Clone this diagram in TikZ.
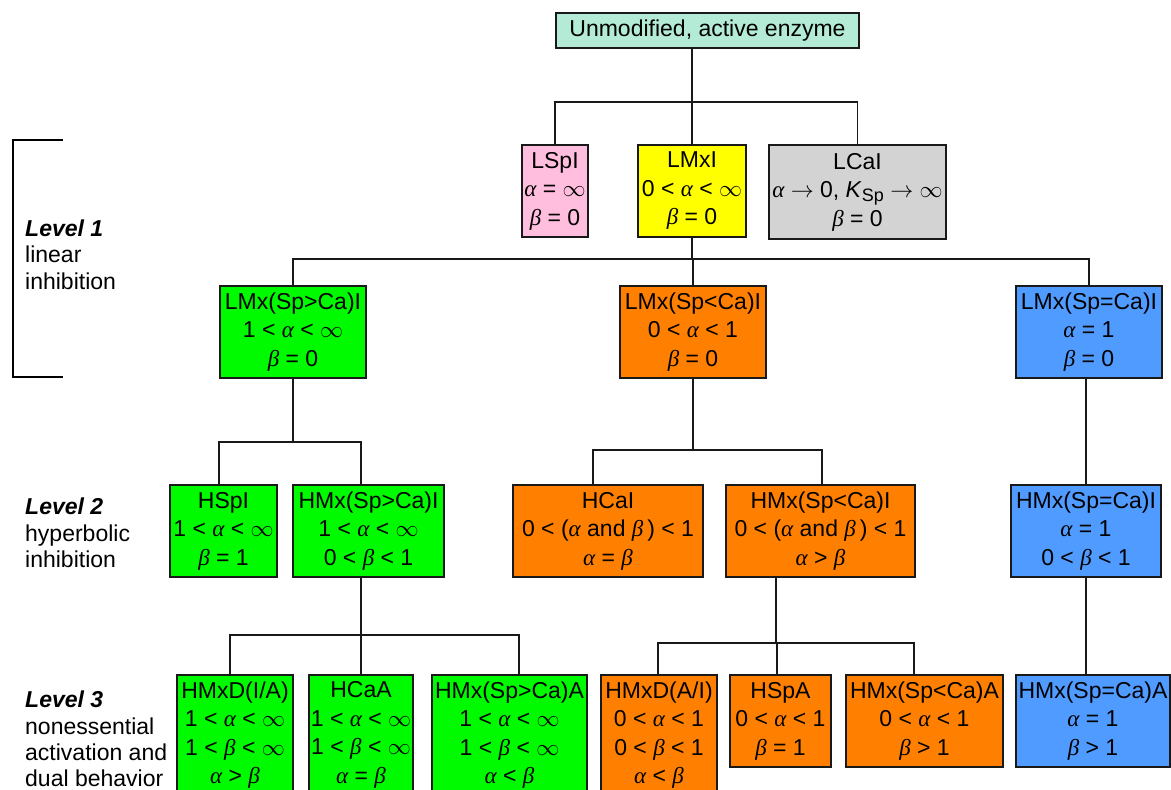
\RequirePackage{fix-cm}
\documentclass[tikz,border=0pt]{standalone}
\usepackage{fontspec}
\setmainfont{Liberation Sans}
\newfontfamily\grkfont{Liberation Serif}
\newcommand\myal{{\grkfont\itshape α}}
\newcommand\mybe{{\grkfont\itshape β}}
\definecolor{mint}{RGB}{180,235,215}
\definecolor{pinkbox}{RGB}{255,190,222}
\definecolor{yellowbox}{RGB}{255,255,0}
\definecolor{graybox}{RGB}{211,211,211}
\definecolor{greenbox}{RGB}{0,250,0}
\definecolor{orangebox}{RGB}{255,128,0}
\definecolor{bluebox}{RGB}{80,155,255}
\begin{document}
\begin{tikzpicture}[x=1pt,y=-1pt,
  box/.style={draw=black!90, line width=1.5pt, inner sep=0pt, align=center,
    font=\fontsize{23}{28.5}\selectfont},
  conn/.style={line width=1.7pt, draw=black!90},
  lbl/.style={anchor=west, align=left, inner sep=0pt, font=\fontsize{23}{26.3}\selectfont},
  short/.style={minimum height=92pt},
  tall/.style={minimum height=120pt}]
\path[use as bounding box] (0,0) rectangle (1171,790);
\clip (0,0) rectangle (1171,790);

% top
\node[box, fill=mint, minimum width=303pt, minimum height=35pt] (top) at (707.5,30.5) {Unmodified, active enzyme};

% level 1 (first row)
\node[box, fill=pinkbox, minimum width=66pt, short] (lspi) at (555,191) {LSpI\\\myal{} = $\infty$\\\mybe{} = 0};
\node[box, fill=yellowbox, line width=2.8pt, minimum width=108pt, short] (lmxi) at (692,191) {LMxI\\0 < \myal{} < $\infty$\\\mybe{} = 0};
\node[box, fill=graybox, minimum width=177pt, minimum height=94pt] (lcai) at (857.5,192) {LCaI\\\myal{} $\rightarrow$ 0, \textit{K}\raisebox{-0.35ex}{\fontsize{18}{18}\selectfont Sp} $\rightarrow\infty$\\\mybe{} = 0};

% level 1 (second row)
\node[box, fill=greenbox, minimum width=146pt, short] (lgt) at (293,332) {LMx(Sp>Ca)I\\1 < \myal{} < $\infty$\\\mybe{} = 0};
\node[box, fill=orangebox, minimum width=146pt, short] (llt) at (693,332) {LMx(Sp<Ca)I\\0 < \myal{} < 1\\\mybe{} = 0};
\node[box, fill=bluebox, minimum width=146pt, short] (leq) at (1089,332) {LMx(Sp=Ca)I\\\myal{} = 1\\\mybe{} = 0};

% level 2
\node[box, fill=greenbox, minimum width=107pt, short] (hspi) at (223.5,531) {HSpI\\1 < \myal{} < $\infty$\\\mybe{} = 1};
\node[box, fill=greenbox, minimum width=151pt, short] (hgti) at (368.5,531) {HMx(Sp>Ca)I\\1 < \myal{} < $\infty$\\0 < \mybe{} < 1};
\node[box, fill=orangebox, minimum width=190pt, short] (hcai) at (608,531) {HCaI\\0 < (\myal{} and \mybe{}\,) < 1\\\myal{} = \mybe};
\node[box, fill=orangebox, minimum width=189pt, short] (hlti) at (820.5,531) {HMx(Sp<Ca)I\\0 < (\myal{} and \mybe{}\,) < 1\\\myal{} > \mybe};
\node[box, fill=bluebox, minimum width=150pt, short] (heqi) at (1086,531) {HMx(Sp=Ca)I\\\myal{} = 1\\0 < \mybe{} < 1};

% level 3
\node[box, fill=greenbox, minimum width=116pt, tall] (hmxdia) at (235,735) {HMxD(I/A)\\1 < \myal{} < $\infty$\\1 < \mybe{} < $\infty$\\\myal{} > \mybe};
\node[box, fill=greenbox, minimum width=104pt, tall] (hcaa) at (361,735) {HCaA\\1 < \myal{} < $\infty$\\1 < \mybe{} < $\infty$\\\myal{} = \mybe};
\node[box, fill=greenbox, minimum width=155pt, tall] (hgta) at (509.5,735) {HMx(Sp>Ca)A\\1 < \myal{} < $\infty$\\1 < \mybe{} < $\infty$\\\myal{} < \mybe};
\node[box, fill=orangebox, minimum width=116pt, tall] (hmxdai) at (659,735) {HMxD(A/I)\\0 < \myal{} < 1\\0 < \mybe{} < 1\\\myal{} < \mybe};
\node[box, fill=orangebox, minimum width=101pt, short] (hspa) at (780.5,721) {HSpA\\0 < \myal{} < 1\\\mybe{} = 1};
\node[box, fill=orangebox, minimum width=157pt, short] (hlta) at (924.5,721) {HMx(Sp<Ca)A\\0 < \myal{} < 1\\\mybe{} > 1};
\node[box, fill=bluebox, minimum width=154pt, short] (heqa) at (1093,721) {HMx(Sp=Ca)A\\\myal{} = 1\\\mybe{} > 1};

% bus levels
\coordinate (bus1) at (0,102);
\coordinate (bus2) at (0,259);
\coordinate (bus3) at (0,442);
\coordinate (bus4) at (0,450);
\coordinate (bus5) at (0,635);
\coordinate (bus6) at (0,643);

% connectors: top -> first row
\draw[conn] (lmxi.north) -- (lmxi.north |- top.south);
\draw[conn] (lspi.north) |- (lcai.north |- bus1) -- (lcai.north);

% LMxI -> second row
\draw[conn] (lmxi.south) -- (lmxi.south |- bus2);
\draw[conn] (lgt.north) |- (leq.north |- bus2) -- (leq.north);
\draw[conn] (llt.north) -- (llt.north |- bus2);

% green level 2
\coordinate (hspiT) at ([xshift=-4.5pt]hspi.north);
\coordinate (hgtiT) at ([xshift=-7.5pt]hgti.north);
\draw[conn] (lgt.south) -- (lgt.south |- bus3);
\draw[conn] (hspiT) |- (hgtiT |- bus3) -- (hgtiT);

% orange level 2
\coordinate (hcaiT) at ([xshift=-15pt]hcai.north);
\coordinate (hltiT) at ([xshift=1.5pt]hlti.north);
\draw[conn] (llt.south) -- (llt.south |- bus4);
\draw[conn] (hcaiT) |- (hltiT |- bus4) -- (hltiT);

% blue level 2
\draw[conn] (heqi.north) -- (heqi.north |- leq.south);

% green level 3
\coordinate (hgtiB) at ([xshift=-7.5pt]hgti.south);
\coordinate (hmxdiaT) at ([xshift=-5pt]hmxdia.north);
\coordinate (hgtaT) at ([xshift=9.5pt]hgta.north);
\draw[conn] (hgtiB) -- (hgtiB |- bus5);
\draw[conn] (hmxdiaT) |- (hgtaT |- bus5) -- (hgtaT);
\draw[conn] (hcaa.north) -- (hcaa.north |- bus5);

% orange level 3
\coordinate (hltiB) at ([xshift=-44.5pt]hlti.south);
\coordinate (hmxdaiT) at ([xshift=-1pt]hmxdai.north);
\coordinate (hspaT) at ([xshift=-3.5pt]hspa.north);
\coordinate (hltaT) at ([xshift=-10.5pt]hlta.north);
\draw[conn] (hltiB) -- (hltiB |- bus6);
\draw[conn] (hmxdaiT) |- (hltaT |- bus6) -- (hltaT);
\draw[conn] (hspaT) -- (hspaT |- bus6);

% blue level 3
\draw[conn] (heqi.south) -- (heqi.south |- heqa.north);

% bracket
\draw[line width=2.6pt] (63,140) -- (13,140) -- (13,377) -- (63,377);

% level labels
\node[lbl] (lv1) at (25,254.5) {\textbf{\textit{Level 1}}\\linear\\inhibition};
\node[lbl] (lv2) at (25,533) {\textbf{\textit{Level 2}}\\hyperbolic\\inhibition};
\node[lbl] (lv3) at (25,739) {\textbf{\textit{Level 3}}\\nonessential\\activation and\\dual behavior};
\end{tikzpicture}
\end{document}
